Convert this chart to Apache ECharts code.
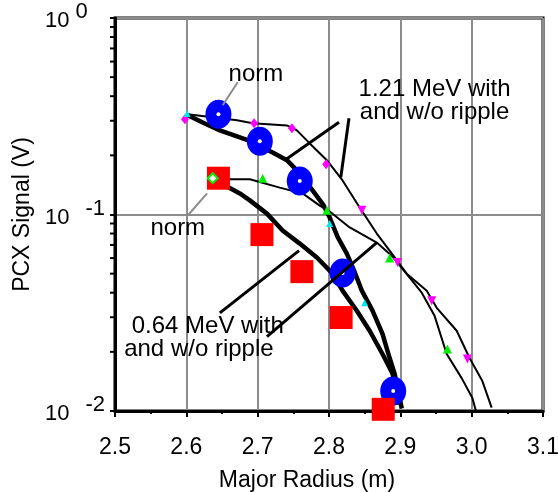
<!DOCTYPE html>
<html>
<head>
<meta charset="utf-8">
<script src="https://cdn.jsdelivr.net/npm/echarts@6/dist/echarts.min.js"></script>
<style>
html,body{margin:0;padding:0;background:#fff;}
#chart{width:558px;height:492px;}
</style>
</head>
<body>
<div id="chart"></div>
<script>
// ---- tick labels ----
const xTickLabels = ['2.5', '2.6', '2.7', '2.8', '2.9', '3.0', '3.1'];
const yTickValues = [0.01, 0.1, 1];
const yTickExponents = ['-2', '-1', '0'];
const yMinorTicks = [0.02, 0.03, 0.04, 0.05, 0.06, 0.07, 0.08, 0.09,
                     0.2, 0.3, 0.4, 0.5, 0.6, 0.7, 0.8, 0.9];

// ---- simulated PCX signals (Major Radius m, Signal V) ----
const thick121 = [[2.602,0.32],[2.623,0.294],[2.647,0.268],[2.686,0.239],[2.721,0.207],[2.741,0.189],
  [2.759,0.162],[2.778,0.131],[2.792,0.112],[2.801,0.0965],[2.812,0.077],[2.825,0.0632],[2.835,0.052],
  [2.846,0.041],[2.861,0.0324],[2.875,0.0247],[2.885,0.0186],[2.892,0.0155],[2.902,0.0103]];
const thick064 = [[2.637,0.153],[2.655,0.140],[2.675,0.128],[2.689,0.118],[2.713,0.101],[2.735,0.0829],
  [2.759,0.0711],[2.783,0.0604],[2.805,0.050],[2.819,0.041],[2.839,0.0324],[2.857,0.0256],[2.875,0.0195],
  [2.889,0.0155],[2.899,0.0108]];
const thin121 = [[2.602,0.324],[2.671,0.302],[2.693,0.291],[2.741,0.284],[2.755,0.268],[2.773,0.23],
  [2.797,0.189],[2.819,0.149],[2.843,0.1086],[2.867,0.080],[2.885,0.0655],[2.909,0.050],[2.937,0.0409],
  [2.951,0.0335],[2.979,0.0256],[2.997,0.0186],[3.015,0.0142],[3.028,0.0104]];
const thin064 = [[2.637,0.151],[2.689,0.151],[2.731,0.137],[2.763,0.128],[2.787,0.111],[2.801,0.1036],
  [2.829,0.0859],[2.867,0.072],[2.889,0.0611],[2.913,0.0477],[2.930,0.040],[2.948,0.0305],[2.965,0.0195],
  [2.986,0.0147],[3.001,0.01165],[3.006,0.0100]];

// ---- measured points ----
const blueCircles = [[2.645,0.324],[2.703,0.236],[2.759,0.148],[2.819,0.0504],[2.89,0.01265]];
const redSquares = [[2.645,0.153],[2.706,0.079],[2.762,0.0512],[2.817,0.0299],[2.876,0.0102]];
const magentaDiamonds = [[2.598,0.305],[2.695,0.291],[2.748,0.275],[2.796,0.180]];
const magentaTriangles = [[2.846,0.105],[2.896,0.0569],[2.944,0.0364],[2.994,0.0184]];
const greenTriangles = [[2.707,0.153],[2.797,0.105],[2.885,0.060],[2.966,0.0207]];
const greenOpenDiamond = [[2.637,0.153]];
const cyanMarks = [[2.601,0.327],[2.801,0.090],[2.850,0.0356]];

// ---- annotations (data coordinates) ----
const annotTexts = [
  {text: 'norm', at: [2.6975, 0.518]},
  {text: 'norm', at: [2.588, 0.0848]},
  {text: '1.21 MeV with\nand w/o ripple', at: [2.948, 0.379]},
  {text: '0.64 MeV with', at: [2.630, 0.0271]},
  {text: 'and w/o ripple', at: [2.6176, 0.0205]}
];
const grayLeaders = [
  [[2.672,0.471],[2.651,0.360]],
  [[2.629,0.128],[2.602,0.0988]]
];
const blackPointers = [
  [[2.814,0.295],[2.738,0.189]],
  [[2.828,0.309],[2.8165,0.1545]],
  [[2.647,0.0316],[2.758,0.0655]],
  [[2.713,0.0239],[2.867,0.0720]]
];

const FONT = 'Liberation Sans, Arial, sans-serif';
const xMin = 2.5;

const chart = echarts.init(document.getElementById('chart'), null, {renderer: 'canvas'});

function lineSeries(data, width, z) {
  return {type: 'line', data: data, showSymbol: false, symbol: 'none', z: z,
    lineStyle: {color: '#000', width: width}, silent: true, clip: false};
}

const series = [
  lineSeries(thin121, 2, 2),
  lineSeries(thin064, 2, 2),
  lineSeries(thick121, 4.5, 2),
  lineSeries(thick064, 4.5, 2),
  {type: 'scatter', data: blueCircles, symbol: 'circle', symbolSize: [26, 29], z: 3,
    itemStyle: {color: '#0000ff', opacity: 1}},
  {type: 'scatter', data: blueCircles, symbol: 'circle', symbolSize: 4, z: 4,
    itemStyle: {color: '#ffffff', opacity: 1}},
  {type: 'scatter', data: redSquares, symbol: 'rect', symbolSize: 23, z: 5, clip: false,
    itemStyle: {color: '#ff0000', opacity: 1}},
  {type: 'scatter', data: magentaDiamonds, symbol: 'diamond', symbolSize: [8, 10], z: 6,
    itemStyle: {color: '#ff00ff', opacity: 1}},
  {type: 'scatter', data: magentaTriangles, symbol: 'triangle', symbolSize: 9, symbolRotate: 180, z: 6,
    itemStyle: {color: '#ff00ff', opacity: 1}},
  {type: 'scatter', data: greenTriangles, symbol: 'triangle', symbolSize: 9, z: 6,
    itemStyle: {color: '#00ee00', opacity: 1}},
  {type: 'scatter', data: greenOpenDiamond, symbol: 'emptyDiamond', symbolSize: 10, z: 6,
    itemStyle: {color: '#00ee00', borderWidth: 2, opacity: 1}},
  {type: 'scatter', data: cyanMarks, symbol: 'triangle', symbolSize: 7, z: 6,
    itemStyle: {color: '#00e5ee', opacity: 1}}
];

grayLeaders.forEach(seg => series.push(
  {type: 'line', data: seg, symbol: 'none', z: 7, lineStyle: {color: '#8c8c8c', width: 2}, clip: false}));
blackPointers.forEach(seg => series.push(
  {type: 'line', data: seg, symbol: 'none', z: 7, lineStyle: {color: '#000', width: 3}, clip: false}));

series.push({
  type: 'scatter', z: 8, symbolSize: 0, clip: false,
  itemStyle: {color: '#000', opacity: 1},
  data: annotTexts.map(a => ({value: a.at, name: a.text})),
  label: {show: true, position: 'inside', formatter: '{b}', color: '#000', opacity: 1,
    textBorderWidth: 0, textShadowBlur: 0,
    fontFamily: FONT, fontSize: 24, lineHeight: 23, align: 'center', verticalAlign: 'middle'}
});

series.push({
  type: 'custom', z: 9, clip: false, silent: true,
  data: yMinorTicks.map(v => [xMin, v]),
  encode: {x: 0, y: 1},
  renderItem: function (params, api) {
    const p = api.coord([api.value(0), api.value(1)]);
    return {type: 'line', shape: {x1: p[0] - 5, y1: p[1], x2: p[0], y2: p[1]},
      style: {stroke: '#000', lineWidth: 2}};
  }
});

const option = {
  animation: false,
  backgroundColor: '#ffffff',
  grid: {left: 115, right: 15, top: 18, bottom: 81, show: true, containLabel: false,
    outerBoundsMode: 'none',
    borderColor: '#000', borderWidth: 3, backgroundColor: 'transparent'},
  xAxis: {
    type: 'value', min: 2.5, max: 3.1, interval: 0.1,
    name: 'Major Radius (m)', nameLocation: 'middle', nameGap: 58,
    nameTextStyle: {fontFamily: FONT, fontSize: 23, color: '#000', padding: [0, 44, 0, 0]},
    axisLine: {show: true, onZero: false, lineStyle: {color: '#000', width: 3}},
    axisTick: {show: true, inside: false, length: 6, lineStyle: {color: '#000', width: 2}},
    minorTick: {show: true, splitNumber: 2, length: 3, lineStyle: {color: '#000', width: 2}},
    splitLine: {show: true, lineStyle: {color: '#8c8c8c', width: 2}},
    axisLabel: {
      margin: 25, fontFamily: FONT, fontSize: 23, color: '#000',
      formatter: function (v) {
        const i = Math.round((v - 2.5) / 0.1);
        return xTickLabels[i] !== undefined ? xTickLabels[i] : '';
      }
    }
  },
  yAxis: {
    type: 'log', logBase: 10, min: 0.01, max: 1,
    name: 'PCX Signal (V)', nameLocation: 'middle', nameGap: 80, nameRotate: 90,
    nameTextStyle: {fontFamily: FONT, fontSize: 23, color: '#000'},
    axisLine: {show: true, lineStyle: {color: '#000', width: 3}},
    axisTick: {show: true, length: 5, lineStyle: {color: '#000', width: 2}},
    splitLine: {show: true, lineStyle: {color: '#8c8c8c', width: 2}},
    axisLabel: {
      align: 'left', margin: 70, color: '#000', fontFamily: FONT,
      formatter: function (v) {
        let idx = 0;
        yTickValues.forEach((t, k) => { if (Math.abs(t - v) / t < 1e-6) idx = k; });
        const e = yTickExponents[idx];
        return '{b|10}{' + (e === '0' ? 's0' : 's') + '|' + e + '}';
      },
      rich: {
        b: {fontFamily: FONT, fontSize: 22, color: '#000', padding: [6, 0, 0, 0]},
        s: {fontFamily: FONT, fontSize: 22, color: '#000', padding: [0, 0, 12, 16]},
        s0: {fontFamily: FONT, fontSize: 22, color: '#000', padding: [0, 0, 12, 6]}
      }
    }
  },
  series: series
};
chart.setOption(option);
</script>
</body>
</html>
